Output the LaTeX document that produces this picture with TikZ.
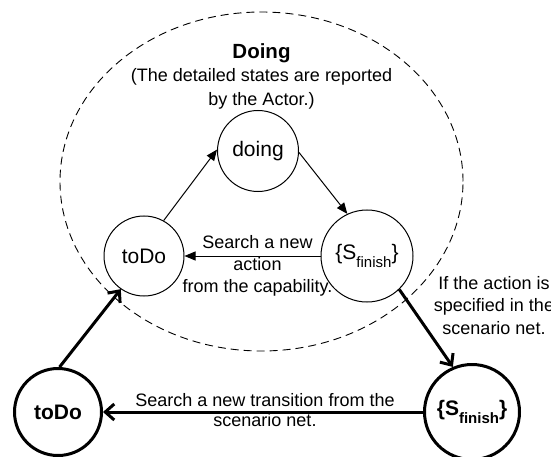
\documentclass[tikz,border=0pt]{standalone}
\usepackage{fontspec}
\setmainfont{Liberation Sans}
\usetikzlibrary{arrows.meta,shapes.geometric}

% subscripted state name {S_finish}
\newcommand{\sfinish}{\{S\raisebox{-7.5pt}{\fontsize{15}{15}\selectfont finish}\}}

\begin{document}
\begin{tikzpicture}[x=1pt,y=-1pt,
  statethin/.style={circle,draw,line width=1pt,inner sep=0pt,
    font=\fontsize{21}{24}\selectfont},
  statethick/.style={circle,draw,line width=3pt,inner sep=0pt,
    font=\fontsize{21}{24}\selectfont\bfseries},
  lbl/.style={align=center,inner sep=0pt,font=\fontsize{18}{22}\selectfont},
  thinarrow/.style={line width=1pt,-{Triangle[length=11pt,width=9pt]}},
  thickarrow/.style={line width=3pt,-{Straight Barb[length=9pt,width=16pt,line width=3pt]}},
  zone/.style={ellipse,draw,line width=0.9pt,dash pattern=on 8pt off 5pt,inner sep=0pt}]
\useasboundingbox (0,0) rectangle (551,457);

% the dashed region of the Doing state
\node[zone,minimum width=403pt,minimum height=339pt] (zone) at (261.5,181.5) {};

\node[font=\fontsize{20.5}{24}\selectfont\bfseries,inner sep=0pt] (title) at (261.5,53) {Doing};
\node[lbl,font=\fontsize{18}{24}\selectfont] (caption) at (261.5,88.5)
  {(The detailed states are reported\\by the Actor.)};

% inner states
\node[statethin,minimum size=81pt] (doing) at (258,151) {doing};
\node[statethin,minimum size=80pt] (todoA) at (144,256) {toDo};
\node[statethin,minimum size=92pt] (sfA) at (367,256) {\sfinish};

% outer states
\node[statethick,minimum size=87pt] (todoB) at (58,412) {toDo};
\node[statethick,minimum size=95pt] (sfB) at (472,412) {\sfinish};

% inner transitions
\draw[thinarrow] (todoA.61) -- (doing.178);
\draw[thinarrow] (doing.-2) -- (sfA.115);
\draw[thinarrow] (sfA.west) -- (todoA.east);
\node[lbl] (lblA) at (257.5,265.5) {Search a new\\action\\from the capability.};

% outer transitions
\draw[thickarrow] (todoB.88) -- (todoA.235);
\draw[thickarrow] (sfA.-46) -- (sfB.113);
\draw[thickarrow] (sfB.west) -- (todoB.east);
\node[lbl,font=\fontsize{18}{22.5}\selectfont] (lblB) at (494,305.5)
  {If the action is\\specified in the\\scenario net.};
\node[lbl,font=\fontsize{18}{20}\selectfont] (lblC) at (265,410)
  {Search a new transition from the\\scenario net.};
\end{tikzpicture}
\end{document}
